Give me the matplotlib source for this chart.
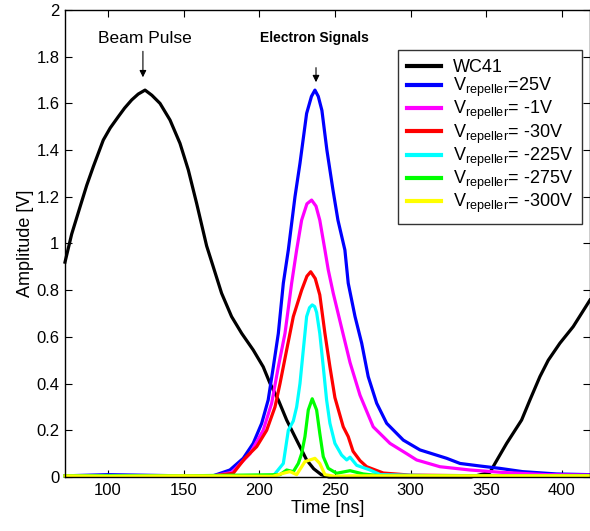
import matplotlib
matplotlib.use("Agg")
import matplotlib.pyplot as plt
from matplotlib.ticker import FormatStrFormatter, MultipleLocator

plt.rcParams['font.family'] = ['Liberation Sans', 'DejaVu Sans']
plt.rcParams['mathtext.fontset'] = 'custom'
plt.rcParams['mathtext.rm'] = 'Liberation Sans'
plt.rcParams['mathtext.it'] = 'Liberation Sans'

# ---------------- data ----------------
t_wc41 = [71.6, 76.0, 81.5, 86.0, 90.3, 96.9, 101.5, 106.8, 111.0, 115.7, 120.0, 124.5, 129.0,
          134.4, 141.0, 147.6, 153.1, 158.6, 165.2, 169.6, 175.1, 181.7, 188.4, 196.0, 202.6,
          207.1, 212.6, 218.1, 224.7, 231.3, 236.0, 241.0, 246.0, 260.0, 300.0, 340.0, 352.5,
          355.8, 363.5, 373.4, 378.9, 385.5, 391.0, 398.7, 407.5, 418.6]
v_wc41 = [0.92, 1.04, 1.156, 1.25, 1.329, 1.443, 1.495, 1.543, 1.58, 1.615, 1.64, 1.657, 1.635,
          1.600, 1.529, 1.429, 1.315, 1.172, 0.99, 0.90, 0.787, 0.687, 0.615, 0.544, 0.472,
          0.401, 0.330, 0.244, 0.158, 0.073, 0.035, 0.01, 0.0, 0.0, 0.0, 0.0, 0.02,
          0.058, 0.144, 0.244, 0.33, 0.43, 0.50, 0.573, 0.644, 0.758]

t_25 = [71.6, 100, 150, 169.4, 180.6, 189.4, 196.0, 201.6, 205.9, 209.3, 212.6, 215.9, 219.2,
        223.6, 226.9, 231.3, 234.5, 236.8, 239.0, 241.4, 244.7, 248.7, 252.0, 256.6, 258.8,
        263.3, 267.7, 272.0, 277.6, 284.2, 295.2, 306.2, 323.9, 332.7, 346.0, 359.0, 374.0,
        396.5, 418.6]
v_25 = [0.005, 0.01, 0.005, 0.005, 0.03, 0.08, 0.144, 0.23, 0.33, 0.472, 0.615, 0.83, 0.972,
        1.2, 1.343, 1.557, 1.63, 1.657, 1.63, 1.57, 1.40, 1.23, 1.10, 0.972, 0.83,
        0.687, 0.573, 0.43, 0.316, 0.23, 0.158, 0.116, 0.08, 0.058, 0.047, 0.037, 0.023,
        0.013, 0.01]

t_m1 = [71.6, 150, 170, 182, 193.9, 202.6, 208.2, 212.6, 217.0, 221.4, 224.7, 228.0, 231.5,
        234.6, 237.5, 240.0, 243.4, 245.6, 248.9, 254.0, 260.0, 266.6, 275.3, 286.4, 297.4,
        304, 319.4, 339.3, 360, 390, 418.6]
v_m1 = [0.005, 0.005, 0.005, 0.02, 0.10, 0.20, 0.316, 0.472, 0.615, 0.83, 0.972, 1.10, 1.17,
        1.186, 1.16, 1.10, 0.972, 0.887, 0.787, 0.65, 0.49, 0.35, 0.215, 0.144, 0.10,
        0.073, 0.044, 0.03, 0.02, 0.01, 0.008]

t_m30 = [71.6, 150, 170.7, 182.8, 190.5, 198.3, 204.9, 210.4, 213.7, 218.1, 222.5, 228.0,
         231.5, 234.0, 237.0, 240.0, 243.4, 246.7, 250.0, 255.5, 258.8, 262.0, 266.6, 271.0,
         282.0, 300, 350, 418.6]
v_m30 = [0.005, 0.005, 0.005, 0.016, 0.08, 0.13, 0.20, 0.30, 0.40, 0.544, 0.687, 0.80,
         0.86, 0.879, 0.85, 0.78, 0.615, 0.472, 0.34, 0.215, 0.173, 0.11, 0.07, 0.044,
         0.017, 0.008, 0.005, 0.005]

t_m225 = [71.6, 150, 209.3, 215.9, 219.2, 222.5, 224.7, 226.9, 229.1, 231.3, 233.2, 235.0,
          236.6, 237.9, 240.0, 242.3, 244.5, 246.7, 250.0, 254.4, 257.8, 260.0, 264.4, 273.2,
          280, 320, 418.6]
v_m225 = [0.005, 0.005, 0.005, 0.058, 0.20, 0.24, 0.30, 0.40, 0.544, 0.687, 0.725, 0.737,
          0.73, 0.705, 0.615, 0.472, 0.33, 0.23, 0.144, 0.094, 0.073, 0.085, 0.05, 0.03,
          0.01, 0.005, 0.005]

t_m275 = [71.6, 150, 213.7, 218.1, 222.5, 225.8, 228.0, 230.2, 232.4, 235.0, 237.9, 240.0,
          242.3, 245.6, 251.1, 260.0, 268.7, 280, 418.6]
v_m275 = [0.005, 0.005, 0.01, 0.03, 0.023, 0.058, 0.10, 0.173, 0.287, 0.335, 0.287, 0.187,
          0.087, 0.037, 0.016, 0.027, 0.013, 0.005, 0.005]

t_m300 = [71.6, 100, 150, 209, 215.9, 220.3, 224.7, 230.2, 236.8, 240.0, 243.4, 250, 260,
          300, 350, 418.6]
v_m300 = [0.005, 0.003, 0.005, 0.003, 0.016, 0.023, 0.01, 0.066, 0.08, 0.058, 0.01, 0.003,
          0.005, 0.005, 0.005, 0.005]

series = [
    (t_wc41, v_wc41, 'WC41', 'black'),
    (t_25, v_25, r'V$_{\mathrm{repeller}}$=25V', 'blue'),
    (t_m1, v_m1, r'V$_{\mathrm{repeller}}$= -1V', 'magenta'),
    (t_m30, v_m30, r'V$_{\mathrm{repeller}}$= -30V', 'red'),
    (t_m225, v_m225, r'V$_{\mathrm{repeller}}$= -225V', 'cyan'),
    (t_m275, v_m275, r'V$_{\mathrm{repeller}}$= -275V', '#00ff00'),
    (t_m300, v_m300, r'V$_{\mathrm{repeller}}$= -300V', 'yellow'),
]

x_ticks = [100, 150, 200, 250, 300, 350, 400]

# ---------------- figure ----------------
fig = plt.figure(figsize=(5.9, 5.31), dpi=100)
ax = fig.add_axes([65 / 590, 54 / 531, 525 / 590, 467 / 531])

for t, v, lab, c in series:
    ax.plot(t, v, color=c, lw=2.3, label=lab, clip_on=False, solid_joinstyle='round')

ax.set_xlim(71.6, 418.6)
ax.set_ylim(0, 2)
ax.set_xticks(x_ticks)
ax.yaxis.set_major_locator(MultipleLocator(0.2))
ax.yaxis.set_major_formatter(FormatStrFormatter('%g'))
ax.tick_params(direction='in', length=5, width=0.8, labelsize=12, top=True, right=True,
               pad=4)
for s in ax.spines.values():
    s.set_linewidth(1.0)

ax.set_xlabel('Time [ns]', fontsize=13, labelpad=2)
ax.set_ylabel('Amplitude [V]', fontsize=13, labelpad=2)

# annotations
ax.text(124.5, 1.88, 'Beam Pulse', ha='center', va='center', fontsize=12.5)
ax.annotate('', xy=(123.1, 1.70), xytext=(123.1, 1.835),
            arrowprops=dict(arrowstyle='-|>', color='black', lw=0.8, mutation_scale=10))
ax.text(236.2, 1.88, 'Electron Signals', ha='center', va='center', fontsize=10,
        fontweight='bold')
ax.annotate('', xy=(237.5, 1.679), xytext=(237.5, 1.765),
            arrowprops=dict(arrowstyle='-|>', color='black', lw=0.8, mutation_scale=10))

leg = ax.legend(loc='upper right', bbox_to_anchor=(582 / 590, 1 - 50 / 531),
                bbox_transform=fig.transFigure, borderaxespad=0, fancybox=False,
                frameon=True, edgecolor='black', fontsize=13, handlelength=1.9,
                handletextpad=0.65, labelspacing=0.0, borderpad=0.5)
leg.get_frame().set_linewidth(1.0)
for line in leg.get_lines():
    line.set_linewidth(3)

fig.savefig('out.png', dpi=100)
